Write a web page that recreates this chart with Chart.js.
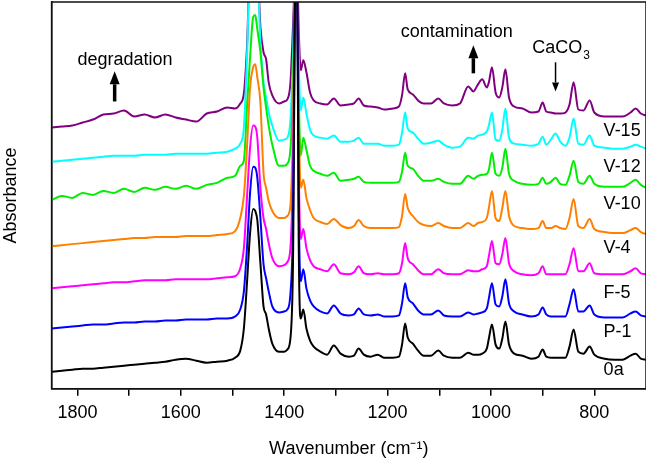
<!DOCTYPE html>
<html>
<head>
<meta charset="utf-8">
<script src="https://cdn.jsdelivr.net/npm/chart.js@4.4.0/dist/chart.umd.min.js"></script>
<style>
html, body { margin: 0; padding: 0; background: #fff; }
#wrap { width: 646px; height: 460px; }
</style>
</head>
<body>
<div id="wrap"><canvas id="chartIR"></canvas></div>
<script>
// Número de onda (cm-1), comum a todos os espectros
const wavenumbers = [1850,1830,1810,1790,1770,1750,1730,1710,1690,1670,
  1650,1630,1610,1590,1570,1550,1530,1510,1495,1485,
  1478,1472,1466,1460,1456,1452,1446,1440,1435,1430,
  1423,1410,1400,1394,1388,1383,1378,1375,1372,1368,
  1363,1357,1350,1343,1330,1317,1304,1291,1275,1265,
  1256,1246,1233,1219,1207,1190,1178,1172,1166,1161,
  1151,1141,1130,1116,1102,1091,1075,1060,1044,1034,
  1025,1017,1008,1004,998,991,984,978,972,965,
  955,939,922,908,900,893,884,875,866,856,
  848,840,831,821,809,800,780,760,745,730,
  720,710,700];

// Marcas do eixo x (só as pares recebem texto)
const tickValues = [800, 900, 1000, 1100, 1200, 1300, 1400, 1500, 1600, 1700, 1800];

// Absorbância (unidades arbitrárias, já deslocadas)
const spec0a = [17,18,19,20,20,21,22,23,24,25,
  26,27,29,30,28,26,27,28,31,38,
  60,105,155,179,177,168,125,82,74,60,
  45,37,37,39,50,124,420,420,150,70,
  79,60,48,42,37,34,43,35,32,33,
  40,34,32,34,31,31,32,44,65,51,
  45,38,33,33,38,33,31,31,36,34,
  34,35,40,50,64,44,40,50,67,44,
  35,33,30,32,39,32,31,31,31,31,
  42,59,37,35,42,34,30,29,29,33,
  35,30,29];
const specP1 = [60,61,62,63,64,64,65,66,66,67,
  67,68,68,69,69,69,70,70,72,79,
  97,140,195,221,220,210,170,124,110,97,
  82,76,77,79,94,165,420,420,190,107,
  119,100,88,82,77,75,83,75,73,74,
  80,74,73,74,72,72,73,85,105,91,
  85,78,74,74,78,73,72,72,76,74,
  75,76,80,90,105,84,82,92,109,85,
  77,74,72,74,81,74,72,72,72,72,
  84,99,77,77,83,74,71,71,71,75,
  77,73,72];
const specF5 = [100,101,102,103,104,105,106,106,107,108,
  108,108,109,109,109,109,110,111,112,120,
  140,190,240,262,261,250,200,170,159,145,
  130,122,123,126,140,220,420,420,230,149,
  159,140,128,122,119,117,124,115,114,116,
  122,115,114,115,114,114,115,125,145,130,
  124,118,114,114,119,115,114,114,118,117,
  117,119,122,132,147,125,124,134,150,125,
  117,114,113,115,122,114,114,114,114,114,
  124,140,117,117,125,115,114,114,114,117,
  120,115,114];
const specV4 = [142,143,144,145,146,147,148,149,150,150,
  151,151,151,152,152,152,153,154,157,170,
  192,240,300,320,323,310,285,215,200,187,
  177,170,170,172,182,260,420,420,280,200,
  208,190,178,170,166,164,169,163,160,162,
  168,162,160,160,160,160,161,172,194,180,
  172,166,163,162,165,162,160,160,165,162,
  165,166,170,180,197,170,167,180,197,172,
  162,160,159,160,167,160,160,162,160,159,
  170,189,162,160,169,159,156,155,155,158,
  160,156,154];
const specV10 = [188,192,190,195,193,197,195,199,196,200,
  198,201,199,202,199,203,205,210,212,222,
  227,280,330,370,372,358,335,300,280,262,
  243,222,222,224,238,300,420,420,300,232,
  250,238,222,217,214,212,215,207,208,209,
  211,206,205,205,205,205,206,216,235,222,
  219,212,207,207,209,206,204,204,212,209,
  212,213,214,218,235,214,212,220,239,214,
  207,204,203,204,210,204,206,210,204,203,
  212,227,206,204,212,204,201,201,201,205,
  208,203,200];
const specV12 = [226,227,228,229,230,231,232,232,232,233,
  233,233,234,234,234,234,235,236,239,244,
  260,330,420,420,420,420,345,305,290,275,
  262,247,248,250,267,330,420,420,330,277,
  290,274,258,252,250,249,252,246,246,247,
  250,244,244,244,242,242,243,255,275,259,
  255,249,244,245,247,243,240,241,250,249,
  252,253,256,262,275,248,247,258,279,250,
  244,243,242,244,251,243,248,254,246,242,
  250,269,244,243,252,242,240,239,239,241,
  243,241,239];
const specV15 = [260,261,262,265,268,273,274,277,271,273,
  270,273,270,268,266,274,276,280,279,284,
  294,340,420,420,420,420,360,335,328,305,
  292,284,286,288,304,360,420,420,360,317,
  327,315,295,287,284,283,289,282,283,284,
  289,282,281,280,278,279,281,292,314,298,
  293,287,284,284,289,284,282,284,301,296,
  303,308,300,305,320,295,290,300,318,290,
  281,279,275,276,285,276,275,274,274,275,
  283,305,278,277,287,275,271,271,271,275,
  279,274,272];

const sampleNames = ['0a', 'P-1', 'F-5', 'V-4', 'V-10', 'V-12', 'V-15'];
const sampleSpectra = [spec0a, specP1, specF5, specV4, specV10, specV12, specV15];
const sampleColors = ['#000000', '#0000ff', '#ff00ff', '#ff8000', '#00ee00', '#00ffff', '#800080'];
// posição vertical (mesma unidade) de cada rótulo à direita
const labelLevels = [19, 57, 95, 140, 184, 221, 257];

const FONT = 'Arial, "Liberation Sans", sans-serif';

function seta(ctx, x, yBase, yTip, lw, headLen, headHalf) {
    const dir = yTip < yBase ? -1 : 1;
    ctx.lineWidth = lw;
    ctx.beginPath();
    ctx.moveTo(x, yBase);
    ctx.lineTo(x, yTip - dir * headLen);
    ctx.stroke();
    ctx.beginPath();
    ctx.moveTo(x, yTip);
    ctx.lineTo(x - headHalf, yTip - dir * headLen);
    ctx.lineTo(x + headHalf, yTip - dir * headLen);
    ctx.closePath();
    ctx.fill();
}

// moldura, rótulos e anotações
const extras = {
    id: 'extras',
    afterDatasetsDraw(chart) {
        const { ctx, chartArea: a, scales: { x, y } } = chart;
        ctx.save();
        ctx.strokeStyle = '#111';
        ctx.lineWidth = 1.5;
        ctx.strokeRect(a.left, a.top, a.right - a.left, a.bottom - a.top);

        ctx.fillStyle = '#000';
        ctx.strokeStyle = '#000';
        ctx.font = '18px ' + FONT;
        ctx.textBaseline = 'middle';
        ctx.textAlign = 'left';
        sampleNames.forEach((nome, i) => {
            ctx.fillText(nome, x.getPixelForValue(782), y.getPixelForValue(labelLevels[i]));
        });

        ctx.textAlign = 'center';
        ctx.fillText('degradation', x.getPixelForValue(1708), y.getPixelForValue(327));
        ctx.fillText('contamination', x.getPixelForValue(1066), y.getPixelForValue(355));
        seta(ctx, x.getPixelForValue(1728), y.getPixelForValue(286), y.getPixelForValue(316), 3.5, 13, 5);
        seta(ctx, x.getPixelForValue(1034), y.getPixelForValue(314), y.getPixelForValue(342), 3.5, 13, 5);

        ctx.textAlign = 'left';
        const cx = x.getPixelForValue(920);
        const cy = y.getPixelForValue(339);
        ctx.fillText('CaCO', cx, cy);
        const w = ctx.measureText('CaCO').width;
        ctx.font = '12px ' + FONT;
        ctx.fillText('3', cx + w + 1, cy + 7);
        seta(ctx, x.getPixelForValue(875), y.getPixelForValue(325), y.getPixelForValue(296), 1.5, 9, 3.5);
        ctx.restore();
    }
};

const ctxIR = document.getElementById('chartIR').getContext('2d');
const chartIR = new Chart(ctxIR, {
    type: 'line',
    data: {
        datasets: sampleNames.map((nome, i) => ({
            label: nome,
            data: wavenumbers.map((w, k) => ({ x: w, y: sampleSpectra[i][k] })),
            borderColor: sampleColors[i],
            borderWidth: 2,
            pointRadius: 0,
            cubicInterpolationMode: 'monotone',
            fill: false
        }))
    },
    options: {
        responsive: true,
        maintainAspectRatio: false,
        animation: false,
        layout: { padding: { top: 2, right: 0, left: 0, bottom: 0 } },
        plugins: { legend: { display: false }, tooltip: { enabled: false } },
        scales: {
            x: {
                type: 'linear',
                reverse: true,
                min: 700,
                max: 1850,
                afterBuildTicks: (axis) => {
                    axis.ticks = tickValues.map(v => ({ value: v }));
                },
                ticks: {
                    autoSkip: false,
                    maxRotation: 0,
                    padding: 6,
                    color: '#000',
                    font: { family: FONT, size: 18 },
                    callback: (v) => (v % 200 === 0 ? String(v) : '')
                },
                grid: { drawOnChartArea: false, color: '#000', tickLength: 7, lineWidth: 1.5 },
                border: { display: true, color: '#111', width: 1.5 },
                title: {
                    display: true,
                    text: 'Wavenumber (cm\u207B\u00B9)',
                    color: '#000',
                    font: { family: FONT, size: 18 },
                    padding: { top: 9, bottom: 0 }
                }
            },
            y: {
                min: 0,
                max: 385,
                ticks: { display: false },
                grid: { display: false },
                border: { display: true, color: '#111', width: 1.5 },
                title: {
                    display: true,
                    text: 'Absorbance',
                    color: '#000',
                    font: { family: FONT, size: 18 },
                    padding: { top: 0, bottom: 22 }
                }
            }
        }
    },
    plugins: [extras]
});
</script>
</body>
</html>
